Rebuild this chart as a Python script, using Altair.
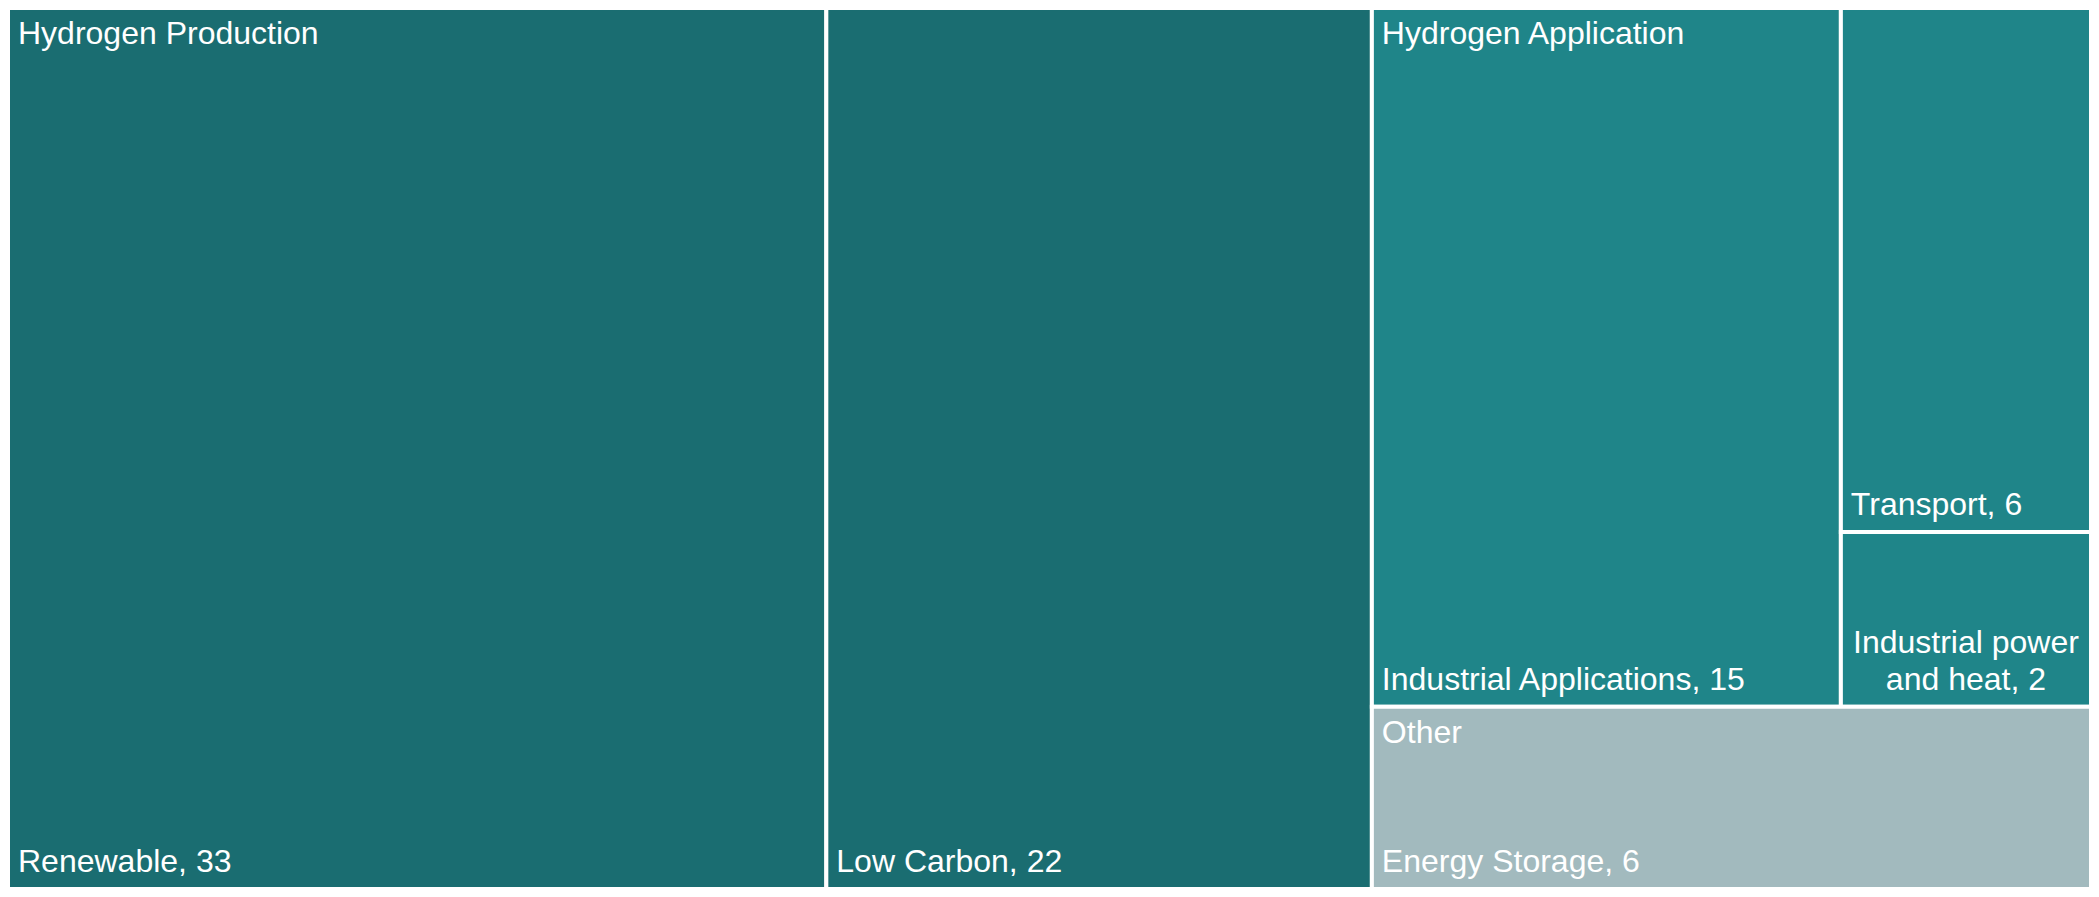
import altair as alt
import pandas as pd

# ---- data ----
parents = ["Hydrogen Production", "Hydrogen Application", "Other"]
parent_colors = ["#1a6d71", "#1f8589", "#a2babe"]
leaf_names = ["Renewable", "Low Carbon", "Industrial Applications", "Transport",
              "Industrial power and heat", "Energy Storage"]
leaf_parent = ["Hydrogen Production", "Hydrogen Production", "Hydrogen Application",
               "Hydrogen Application", "Hydrogen Application", "Other"]
leaf_values = [33, 22, 15, 6, 2, 6]

# ---- layout (squarify, computed from the values) ----
W, H = 2083, 881
FONT_SIZE = 32
LINE_H = 37


def worst(row, side):
    s = sum(row)
    return max(max(side * side * r / (s * s), (s * s) / (side * side * r)) for r in row)


def squarify(vals, x, y, w, h):
    total = sum(vals)
    areas = [v / total * w * h for v in vals]
    out = []
    i = 0
    while i < len(areas):
        side = min(w, h)
        row = [areas[i]]
        j = i + 1
        while j < len(areas) and worst(row + [areas[j]], side) <= worst(row, side):
            row.append(areas[j])
            j += 1
        s = sum(row)
        if w >= h:
            cw = s / h
            yy = y
            for a in row:
                rh = a / cw
                out.append((x, x + cw, yy, yy + rh))
                yy += rh
            x += cw
            w -= cw
        else:
            rh = s / w
            xx = x
            for a in row:
                rw = a / rh
                out.append((xx, xx + rw, y, y + rh))
                xx += rw
            y += rh
            h -= rh
        i = j
    return out


parent_totals = [sum(v for v, p in zip(leaf_values, leaf_parent) if p == par) for par in parents]
order = sorted(range(len(parents)), key=lambda k: -parent_totals[k])
top_rects = squarify([parent_totals[k] for k in order], 0, 0, W, H)

rect_rows, plabel_rows, left_rows, center_rows = [], [], [], []
for k, (px0, px1, py0, py1) in zip(order, top_rects):
    par = parents[k]
    plabel_rows.append({"x": px0, "y": py0, "text": par, "parent": par})
    kids = [i for i, p in enumerate(leaf_parent) if p == par]
    kids = sorted(kids, key=lambda i: -leaf_values[i])
    krects = squarify([leaf_values[i] for i in kids], px0, py0, px1 - px0, py1 - py0)
    for i, (x0, x1, y0, y1) in zip(kids, krects):
        rect_rows.append({"name": leaf_names[i], "parent": par, "value": leaf_values[i],
                          "x0": x0, "x1": x1, "y0": y0, "y1": y1})
        label = f"{leaf_names[i]}, {leaf_values[i]}"
        if len(label) * 0.48 * FONT_SIZE <= (x1 - x0) - 20:
            left_rows.append({"x": x0, "y": y1, "text": label})
        else:
            words = label.split(" ")
            best = None
            for cut in range(1, len(words)):
                a, b = " ".join(words[:cut]), " ".join(words[cut:])
                score = max(len(a), len(b))
                if best is None or score < best[0]:
                    best = (score, [a, b])
            lines = best[1]
            n = len(lines)
            for li, t in enumerate(lines):
                center_rows.append({"x": (x0 + x1) / 2, "y": y1 - (n - 1 - li) * LINE_H, "text": t})

rect_df = pd.DataFrame(rect_rows)
xs = alt.Scale(domain=[0, W], nice=False, zero=False)
ys = alt.Scale(domain=[0, H], nice=False, zero=False, reverse=True)

rects = alt.Chart(rect_df).mark_rect(stroke="white", strokeWidth=4).encode(
    x=alt.X("x0:Q", scale=xs, axis=None),
    x2="x1:Q",
    y=alt.Y("y0:Q", scale=ys, axis=None),
    y2="y1:Q",
    color=alt.Color("parent:N", scale=alt.Scale(domain=parents, range=parent_colors), legend=None),
    tooltip=["parent:N", "name:N", "value:Q"],
)

font = "Arial, Liberation Sans, Helvetica, sans-serif"
txt = dict(font=font, fontSize=FONT_SIZE, color="white", baseline="alphabetic")

plabels = alt.Chart(pd.DataFrame(plabel_rows)).mark_text(align="left", dx=10, dy=36, **txt).encode(
    x=alt.X("x:Q", scale=xs), y=alt.Y("y:Q", scale=ys), text="text:N")
leftl = alt.Chart(pd.DataFrame(left_rows)).mark_text(align="left", dx=10, dy=-17, **txt).encode(
    x=alt.X("x:Q", scale=xs), y=alt.Y("y:Q", scale=ys), text="text:N")
centl = alt.Chart(pd.DataFrame(center_rows)).mark_text(align="center", dy=-17, **txt).encode(
    x=alt.X("x:Q", scale=xs), y=alt.Y("y:Q", scale=ys), text="text:N")

chart = alt.layer(rects, plabels, leftl, centl).properties(
    width=W, height=H, padding=0, autosize=alt.AutoSizeParams(type="none"),
    background="white",
).configure_view(stroke=None)

chart.save("out.html", embed_options={"renderer": "svg", "actions": False})
